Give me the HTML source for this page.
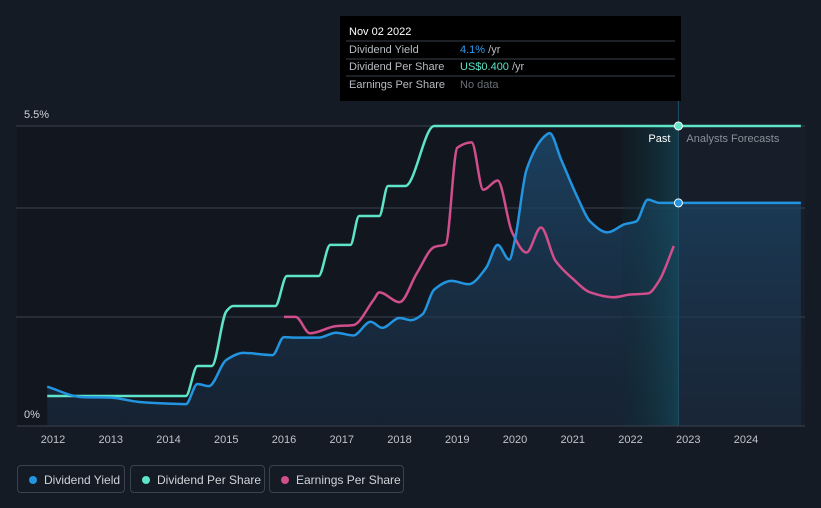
<!DOCTYPE html>
<html><head><meta charset="utf-8"><style>
body{margin:0;background:#151b24;font-family:"Liberation Sans",sans-serif;}
#wrap{position:relative;width:821px;height:508px;overflow:hidden;background:#151b24}
.lg{position:absolute;top:465px;height:28px;border:1px solid #3a4250;border-radius:4px;color:#d0d4da;font-size:12px;line-height:28px;box-sizing:border-box;padding-left:26px}
.lg i{position:absolute;left:11px;top:10px;width:8px;height:8px;border-radius:50%}
</style></head><body>
<div id="wrap">
<svg id="c" width="821" height="508"></svg>
<div class="lg" style="left:17px;width:108px"><i style="background:#2394df"></i>Dividend Yield</div>
<div class="lg" style="left:130px;width:135px"><i style="background:#5ee4c8"></i>Dividend Per Share</div>
<div class="lg" style="left:269px;width:135px"><i style="background:#d14e8c"></i>Earnings Per Share</div>
</div>
<script>
const xTicks=[2012,2013,2014,2015,2016,2017,2018,2019,2020,2021,2022,2023,2024];
const yieldX=[2011.9,2012.5,2013,2013.5,2014,2014.3,2014.5,2014.7,2015,2015.3,2015.8,2016,2016.2,2016.6,2016.9,2017.2,2017.5,2017.7,2018,2018.2,2018.4,2018.6,2018.9,2019.2,2019.5,2019.7,2019.9,2020.0,2020.2,2020.5,2020.6,2020.8,2021.1,2021.3,2021.6,2021.9,2022.1,2022.3,2022.5,2022.83];
const yieldV=[0.72,0.53,0.52,0.44,0.41,0.40,0.77,0.73,1.21,1.34,1.30,1.63,1.62,1.62,1.71,1.66,1.91,1.80,1.98,1.94,2.05,2.50,2.66,2.60,2.90,3.32,3.05,3.42,4.70,5.30,5.37,4.88,4.15,3.75,3.55,3.70,3.75,4.15,4.09,4.09];
const forecastEnd=2024.95;
const dpsX=[2011.9,2014.3,2014.5,2014.75,2015.0,2015.12,2015.85,2016.05,2016.6,2016.8,2017.15,2017.3,2017.65,2017.8,2018.1,2018.6,2024.95];
const dpsV=[0.55,0.55,1.1,1.1,2.1,2.2,2.2,2.75,2.75,3.32,3.32,3.85,3.85,4.4,4.4,5.5,5.5];
const epsX=[2016,2016.2,2016.45,2016.9,2017.2,2017.55,2017.65,2018.0,2018.3,2018.6,2018.8,2019.0,2019.25,2019.45,2019.7,2019.95,2020.2,2020.45,2020.7,2021.0,2021.3,2021.7,2022.0,2022.3,2022.5,2022.75];
const epsV=[2.0,2.0,1.7,1.83,1.85,2.31,2.45,2.27,2.8,3.28,3.33,5.1,5.2,4.33,4.5,3.55,3.18,3.64,3.03,2.7,2.45,2.36,2.41,2.43,2.67,3.3];
const sx=y=>53+(y-2012)*57.75, sy=v=>426-v*54.55;
const S=document.getElementById('c'),NS='http://www.w3.org/2000/svg';
function el(t,a,p){const e=document.createElementNS(NS,t);for(const k in a)e.setAttribute(k,a[k]);(p||S).appendChild(e);return e;}
function path(xs,vs){const X=xs.map(sx),Y=vs.map(sy),n=X.length;const dl=[],m=[];
for(let i=0;i<n-1;i++)dl.push((Y[i+1]-Y[i])/(X[i+1]-X[i]));
m[0]=dl[0];m[n-1]=dl[n-2];
for(let i=1;i<n-1;i++)m[i]=(dl[i-1]*dl[i]<=0)?0:(2*dl[i-1]*dl[i]/(dl[i-1]+dl[i]));
for(let i=0;i<n-1;i++)if(dl[i]===0){m[i]=0;m[i+1]=0;}
let d='M'+X[0]+','+Y[0];
for(let i=0;i<n-1;i++){const h=(X[i+1]-X[i])/3;d+=`C${X[i]+h},${Y[i]+m[i]*h} ${X[i+1]-h},${Y[i+1]-m[i+1]*h} ${X[i+1]},${Y[i+1]}`;}return d;}
const defs=el('defs',{});
defs.innerHTML='<linearGradient id="fa" x1="0" y1="0" x2="0" y2="1"><stop offset="0" stop-color="#1d4a6e" stop-opacity="0.8"/><stop offset="1" stop-color="#1a2d44" stop-opacity="0.5"/></linearGradient><linearGradient id="ps" x1="0" x2="1"><stop offset="0" stop-color="#0f2a33" stop-opacity="0.2"/><stop offset="1" stop-color="#145060" stop-opacity="0.6"/></linearGradient>';
const nowX=sx(2022.83);
let r=el('rect',{x:17,y:126,width:nowX-17,height:300,fill:'#12171f'});
r=el('rect',{x:nowX,y:126,width:805-nowX,height:300,fill:'#171e29'});
[126,208,317].forEach(y=>{const g=el('line',{x1:16,x2:805,y1:y,y2:y,stroke:'#3a4250','stroke-width':1});});
let a=el('path',{d:path(yieldX,yieldV)+`L${sx(forecastEnd)},${sy(yieldV[yieldV.length-1])}L${sx(forecastEnd)},426L${sx(yieldX[0])},426Z`,fill:'url(#fa)'});
r=el('rect',{x:622,y:126,width:nowX-622,height:300,fill:'url(#ps)'});
let l=el('line',{x1:nowX,x2:nowX,y1:100,y2:426,stroke:'#1f4f66'});
l=el('line',{x1:17,x2:805,y1:426,y2:426,stroke:'#3a4250'});
let p=el('path',{d:path(epsX,epsV),fill:'none',stroke:'#d14e8c','stroke-width':2.5});
p=el('path',{d:path(dpsX,dpsV),fill:'none',stroke:'#5ee4c8','stroke-width':2.5});
p=el('path',{d:path(yieldX,yieldV),fill:'none',stroke:'#2394df','stroke-width':2.5});
p=el('line',{x1:nowX,x2:sx(forecastEnd),y1:sy(yieldV[yieldV.length-1]),y2:sy(yieldV[yieldV.length-1]),stroke:'#2394df','stroke-width':2.5});
let d=el('circle',{cx:nowX,cy:sy(5.5),r:4,fill:'#5ee4c8',stroke:'#fff','stroke-width':1});
d=el('circle',{cx:nowX,cy:sy(yieldV[yieldV.length-1]),r:4,fill:'#2394df',stroke:'#fff','stroke-width':1});
xTicks.forEach(t=>{const e=el('text',{x:sx(t),y:443,fill:'#c0c4ca','font-size':11,'text-anchor':'middle'});e.textContent=t;});
let t=el('text',{x:24,y:118,fill:'#d0d4da','font-size':11});t.textContent='5.5%';
t=el('text',{x:24,y:418,fill:'#d0d4da','font-size':11});t.textContent='0%';
t=el('text',{x:nowX-8,y:142,fill:'#fff','font-size':11,'text-anchor':'end'});t.textContent='Past';
t=el('text',{x:nowX+8,y:142,fill:'#8a9099','font-size':11});t.textContent='Analysts Forecasts';
const tg=el('g',{});
el('rect',{x:340,y:16,width:341,height:85,fill:'#000'},tg);
[41,59,76].forEach(y=>el('line',{x1:346,x2:675,y1:y,y2:y,stroke:'#3a3f47'},tg));
const rows=[['Nov 02 2022',35,'#fff',null],['Dividend Yield',53,'#b8bcc2',['4.1%','#2e9df0',' /yr']],['Dividend Per Share',70,'#b8bcc2',['US$0.400','#5ee4c8',' /yr']],['Earnings Per Share',88,'#b8bcc2',['No data','#6a7078','']]];
rows.forEach(([s,y,c,v])=>{const e=el('text',{x:349,y:y,fill:c,'font-size':11},tg);e.textContent=s;
if(v){const e2=el('text',{x:460,y:y,'font-size':11,fill:'#b8bcc2'},tg);const a=el('tspan',{fill:v[1]},e2);a.textContent=v[0];const b=el('tspan',{},e2);b.textContent=v[2];}});
</script>
</body></html>
